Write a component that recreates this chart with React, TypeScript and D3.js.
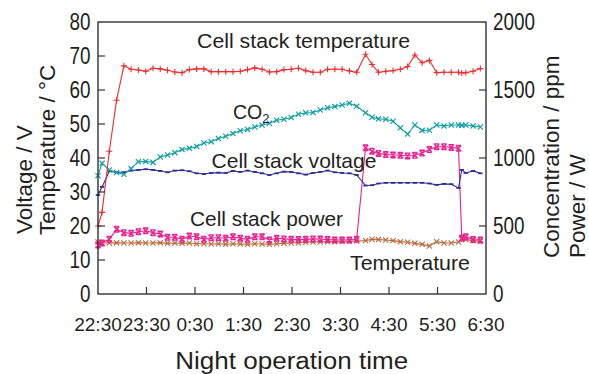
import React from 'react';
import * as d3 from 'd3';

// minutes after 22:30 for every sample
const minutes = [0, 5, 14, 23, 32, 41, 50, 59, 68, 77, 86, 95, 104, 113, 122, 131, 140, 149, 158, 167,
  176, 185, 194, 203, 212, 221, 230, 239, 248, 257, 266, 275, 284, 293, 302, 311, 320, 331, 339, 347,
  356, 365, 374, 383, 392, 401, 410, 419, 428, 437, 446, 450, 455, 464, 473];

// cell stack temperature, degC (left axis)
const stackTemp = [20, 24, 42, 57, 67.1, 66.1, 65.9, 65.5, 66.4, 66.2, 65.8, 65.3, 65.1, 66.0, 66.2, 66.2, 65.4, 65.4, 65.4, 65.4,
  65.5, 66.0, 66.5, 66.1, 65.3, 65.4, 66.0, 66.1, 66.4, 65.7, 65.2, 65.2, 66.1, 66.1, 66.1, 65.6, 65.2, 70.5, 67.5, 65.2,
  65.5, 65.7, 66.1, 66.9, 70.3, 68.0, 68.7, 65.1, 65.2, 65.2, 65.2, 65.0, 65.1, 65.5, 66.3];

// CO2 concentration, ppm (right axis)
const co2 = [870, 961, 912, 893, 880, 922, 973, 975, 968, 1008, 1022, 1039, 1062, 1071, 1085, 1110, 1120, 1143, 1160, 1180,
  1200, 1210, 1228, 1242, 1255, 1278, 1285, 1298, 1322, 1332, 1335, 1353, 1370, 1378, 1390, 1402, 1380, 1333, 1300, 1288,
  1285, 1270, 1222, 1176, 1243, 1203, 1204, 1243, 1236, 1243, 1243, 1240, 1243, 1236, 1228];

// cell stack voltage, V (left axis)
const stackVoltage = [29.1, 31.5, 36.1, 35.8, 35.8, 36.3, 36.5, 36.7, 36.5, 36.2, 35.8, 36.3, 36.4, 36.1, 35.5, 35.3, 35.6, 35.7, 35.6, 36.2,
  35.9, 36.3, 35.9, 35.5, 35.0, 35.5, 36.0, 35.9, 35.5, 35.1, 35.6, 35.9, 36.3, 35.8, 35.6, 35.5, 35.0, 31.9, 32.0, 32.5,
  32.7, 32.7, 32.7, 32.7, 32.7, 32.7, 32.5, 32.1, 32.4, 32.3, 31.2, 36.5, 35.6, 36.2, 35.5];

// cell stack power, W (right axis)
const stackPower = [360, 375, 402, 476, 451, 446, 458, 465, 451, 441, 417, 417, 402, 426, 421, 402, 414, 414, 410, 421,
  410, 402, 421, 421, 397, 410, 405, 402, 400, 402, 405, 404, 400, 397, 397, 397, 402, 1075, 1050, 1034,
  1025, 1022, 1020, 1015, 1020, 1036, 1062, 1083, 1083, 1078, 1071, 410, 421, 400, 397];

// ambient temperature, degC (left axis)
const ambientTemp = [15.3, 15.0, 15.0, 15.1, 15.0, 15.0, 15.1, 15.0, 15.0, 15.1, 14.9, 15.0, 14.9, 15.0, 14.8, 14.8, 14.7, 14.8, 14.6, 14.8,
  14.7, 14.6, 14.8, 14.7, 14.6, 14.8, 14.9, 15.0, 15.1, 15.2, 15.3, 15.3, 15.4, 15.4, 15.5, 15.5, 15.6, 15.7, 16.1, 16.0,
  15.9, 15.7, 15.4, 15.2, 14.9, 14.6, 14.1, 15.4, 15.0, 15.0, 15.3, 16.1, 16.0, 15.7, 15.5];

const timeTicks = [0, 60, 120, 180, 240, 300, 360, 420, 480];
const timeLabels = ['22:30', '23:30', '0:30', '1:30', '2:30', '3:30', '4:30', '5:30', '6:30'];
const leftTicks = [0, 10, 20, 30, 40, 50, 60, 70, 80];
const rightTicks = [0, 500, 1000, 1500, 2000];

const W = 589;
const H = 374;
const left = 98, right = 486, top = 22, bottom = 294;
const font = "'Liberation Sans', Arial, Helvetica, sans-serif";
const ink = '#231f20';

const x = d3.scaleLinear().domain([0, 480]).range([left, right]);
const yL = d3.scaleLinear().domain([0, 80]).range([bottom, top]);
const yR = d3.scaleLinear().domain([0, 2000]).range([bottom, top]);

const marks = {
  plus: 'M-3,0H3M0,-3V3',
  cross: 'M-2.6,-2.6L2.6,2.6M-2.6,2.6L2.6,-2.6',
  dash: 'M-2.2,0H2.2',
  hourglass: 'M-2.6,-2.8H2.6M-2.6,2.8H2.6M-2.6,-2.8L2.6,2.8M2.6,-2.8L-2.6,2.8',
};

const Series = ({ values, scale, color, mark, markWidth }) => {
  const pts = values.map((v, i) => [x(minutes[i]), scale(v)]);
  const line = d3.line()(pts);
  return (
    <g>
      <path d={line} fill="none" stroke={color} strokeWidth={1.1} />
      {pts.map((p, i) => (
        <path key={i} d={marks[mark]} transform={`translate(${p[0]},${p[1]})`}
          fill="none" stroke={color} strokeWidth={markWidth} />
      ))}
    </g>
  );
};

const App = () => {
  return (
    <svg width={W} height={H} style={{ position: 'absolute', left: 0, top: 0, background: '#fff' }}
      fontFamily={font}>
      <rect x={0} y={0} width={W} height={H} fill="#fff" />

      {/* series */}
      <Series values={ambientTemp} scale={yL} color="#b86a3c" mark="cross" markWidth={1.1} />
      <Series values={stackPower} scale={yR} color="#ea1f8e" mark="hourglass" markWidth={1.4} />
      <Series values={stackVoltage} scale={yL} color="#2b2f92" mark="dash" markWidth={1.8} />
      <Series values={co2} scale={yR} color="#139ea4" mark="cross" markWidth={1.2} />
      <Series values={stackTemp} scale={yL} color="#ef2b2d" mark="plus" markWidth={1.1} />

      {/* frame */}
      <rect x={left} y={top} width={right - left} height={bottom - top} fill="none" stroke="#333" strokeWidth={1.4} />

      {/* ticks */}
      {leftTicks.slice(1, -1).map((t) => (
        <line key={'lt' + t} x1={left} x2={left + 7} y1={yL(t)} y2={yL(t)} stroke="#333" strokeWidth={1.2} />
      ))}
      {rightTicks.slice(1, -1).map((t) => (
        <line key={'rt' + t} x1={right - 7} x2={right} y1={yR(t)} y2={yR(t)} stroke="#333" strokeWidth={1.2} />
      ))}
      {timeTicks.slice(1, -1).map((t) => (
        <line key={'bt' + t} x1={x(t)} x2={x(t)} y1={bottom} y2={bottom - 7} stroke="#333" strokeWidth={1.2} />
      ))}

      {/* tick labels */}
      {leftTicks.map((t) => (
        <text key={'ll' + t} transform={`translate(90.5,${yL(t) + 7.5}) scale(0.9,1.12)`}
          textAnchor="end" fontSize={21} fill={ink}>{t}</text>
      ))}
      {rightTicks.map((t) => (
        <text key={'rl' + t} transform={`translate(493,${yR(t) + 7.5}) scale(0.9,1.12)`}
          textAnchor="start" fontSize={21} fill={ink}>{t}</text>
      ))}
      {timeTicks.map((t, i) => (
        <text key={'tl' + t} x={x(t)} y={331} textAnchor="middle" fontSize={19} fill={ink}>{timeLabels[i]}</text>
      ))}

      {/* axis titles */}
      <text transform="translate(31.5,234) rotate(-90)" fontSize={22.5} fill={ink}>Voltage / V</text>
      <text transform="translate(55,235) rotate(-90)" fontSize={22.5} fill={ink}>Temperature / °C</text>
      <text transform="translate(559,258) rotate(-90)" fontSize={22.5} fill={ink}>Concentration / ppm</text>
      <text transform="translate(585,258) rotate(-90)" fontSize={22.5} fill={ink}>Power / W</text>
      <text x={291.7} y={368.5} textAnchor="middle" fontSize={23} textLength={233}
        lengthAdjust="spacingAndGlyphs" fill={ink}>Night operation time</text>

      {/* series labels */}
      <text x={197} y={47.5} fontSize={20.5} textLength={213} lengthAdjust="spacingAndGlyphs" fill={ink}>Cell stack temperature</text>
      <text x={233} y={119} fontSize={19.5} fill={ink}>CO<tspan fontSize={13} dy={4}>2</tspan></text>
      <text x={211.5} y={167.5} fontSize={20.3} textLength={165} lengthAdjust="spacingAndGlyphs" fill={ink}>Cell stack voltage</text>
      <text x={190} y={226} fontSize={20.3} textLength={153} lengthAdjust="spacingAndGlyphs" fill={ink}>Cell stack power</text>
      <text x={350} y={269.5} fontSize={20.8} textLength={120} lengthAdjust="spacingAndGlyphs" fill={ink}>Temperature</text>
    </svg>
  );
};

export default App;
